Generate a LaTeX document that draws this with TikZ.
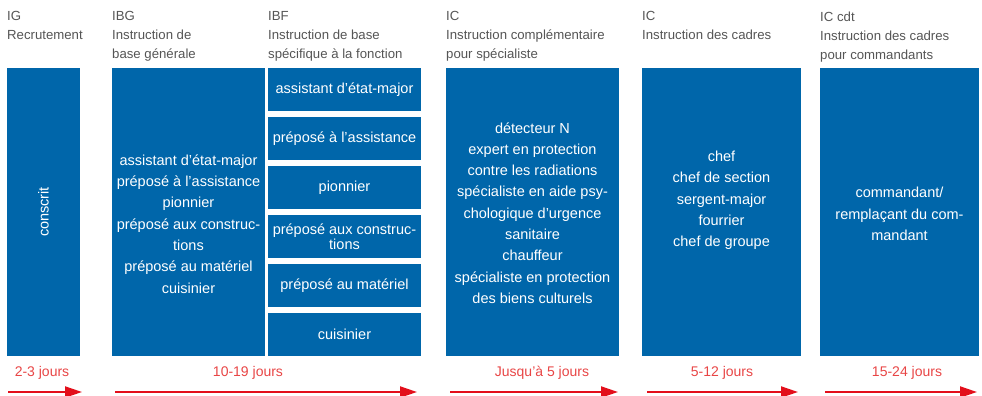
\documentclass[tikz,border=0pt]{standalone}
\usepackage{fontspec}
\setmainfont{Liberation Sans}
\usetikzlibrary{arrows.meta}
\definecolor{bblue}{HTML}{0066AA}
\definecolor{ared}{HTML}{E30F1B}
\definecolor{tred}{HTML}{E84545}
\definecolor{hgrey}{HTML}{555555}
\begin{document}
\begin{tikzpicture}[x=1pt,y=-1pt,
 box/.style={fill=bblue, draw=none, inner sep=0pt, outer sep=0pt, anchor=north west},
 subbox/.style={box, minimum width=153pt, minimum height=43pt, text=white, align=center, font=\fontsize{14.5}{15}\selectfont},
 boxtxt/.style={text=white, align=center, font=\fontsize{14.5}{21.3}\selectfont, inner sep=0pt},
 head/.style={text=hgrey, align=left, anchor=north west, inner sep=0pt, font=\fontsize{13.2}{19}\selectfont},
 dur/.style={text=tred, inner sep=0pt, font=\fontsize{14}{17}\selectfont},
 durarrow/.style={draw=ared, line width=2pt, -{Triangle[length=17pt,width=11pt]}}]
\useasboundingbox (0,0) rectangle (982,396);

% headers
\node[head] (h1) at (7,11.5) {IG\\Recrutement};
\node[head] (h2) at (112,11.5) {IBG\\Instruction de\\base générale};
\node[head] (h3) at (268,11.5) {IBF\\Instruction de base\\spécifique à la fonction};
\node[head] (h4) at (446,11.5) {IC\\Instruction complémentaire\\pour spécialiste};
\node[head] (h5) at (642,11.5) {IC\\Instruction des cadres};
\node[head] (h6) at (820,11.5) {IC cdt\\Instruction des cadres\\pour commandants};

% main boxes
\node[box, minimum width=73pt, minimum height=288pt] (b1) at (7,68) {};
\node[box, minimum width=153pt, minimum height=288pt] (b2) at (112,68) {};
\node[box, minimum width=173pt, minimum height=288pt] (b4) at (446,68) {};
\node[box, minimum width=159pt, minimum height=288pt] (b5) at (642,68) {};
\node[box, minimum width=159pt, minimum height=288pt] (b6) at (820,68) {};

% IBF sub boxes
\node[subbox] (s1) at (268,68) {assistant d’état-major};
\node[subbox] (s2) at (268,117) {préposé à l’assistance};
\node[subbox] (s3) at (268,166) {pionnier};
\node[subbox] (s4) at (268,215) {préposé aux construc-\\tions};
\node[subbox] (s5) at (268,264) {préposé au matériel};
\node[subbox] (s6) at (268,313) {cuisinier};

% box texts
\node[boxtxt, rotate=90] (t1) at (43.5,212) {conscrit};
\node[boxtxt] (t2) at (188.5,224) {assistant d’état-major\\préposé à l’assistance\\pionnier\\préposé aux construc-\\tions\\préposé au matériel\\cuisinier};
\node[boxtxt] (t4) at (532.5,213) {détecteur N\\expert en protection\\contre les radiations\\spécialiste en aide psy-\\chologique d’urgence\\sanitaire\\chauffeur\\spécialiste en protection\\des biens culturels};
\node[boxtxt] (t5) at (721.5,200.5) {chef\\chef de section\\sergent-major\\fourrier\\chef de groupe};
\node[boxtxt] (t6) at (899.5,214) {commandant/\\remplaçant du com-\\mandant};

% durations
\node[dur] (d1) at (42,373) {2-3 jours};
\node[dur] (d2) at (248,373) {10-19 jours};
\node[dur] (d3) at (542,373) {Jusqu’à 5 jours};
\node[dur] (d4) at (722,373) {5-12 jours};
\node[dur] (d5) at (907,373) {15-24 jours};

\coordinate (a1s) at (8,392);   \coordinate (a1e) at (82,392);
\coordinate (a2s) at (115,392); \coordinate (a2e) at (417,392);
\coordinate (a3s) at (450,392); \coordinate (a3e) at (618,392);
\coordinate (a4s) at (647,392); \coordinate (a4e) at (798,392);
\coordinate (a5s) at (825,392); \coordinate (a5e) at (977,392);
\draw[durarrow] (a1s) -- (a1e);
\draw[durarrow] (a2s) -- (a2e);
\draw[durarrow] (a3s) -- (a3e);
\draw[durarrow] (a4s) -- (a4e);
\draw[durarrow] (a5s) -- (a5e);
\end{tikzpicture}
\end{document}
